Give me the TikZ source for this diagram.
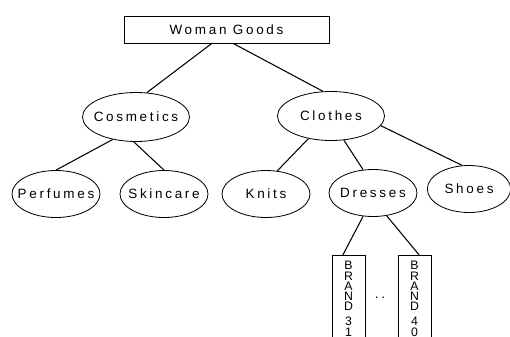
\documentclass[tikz,border=0pt]{standalone}
\usepackage{fontspec}
\setmainfont{Liberation Sans}
\newfontfamily\goodsfont[LetterSpace=20]{Liberation Sans}
\usetikzlibrary{shapes.geometric}

\begin{document}
\begin{tikzpicture}[x=0.03cm, y=-0.03cm,
  font=\goodsfont\fontsize{11.5}{13}\selectfont,
  rootbox/.style={draw, line width=0.7pt, minimum width=6.15cm, minimum height=0.81cm},
  goods/.style={ellipse, draw, line width=0.7pt, inner sep=0pt,
    minimum width=2.64cm, minimum height=1.41cm},
  group/.style={goods, minimum width=3.21cm, minimum height=1.47cm},
  brand/.style={draw, line width=0.7pt, anchor=north, minimum width=0.99cm,
    inner ysep=5pt, align=center, font=\normalfont\fontsize{10.5}{8.8}\selectfont},
  link/.style={line width=0.9pt}]

  \useasboundingbox (0,0) rectangle (510,336);

  % Top of the tree
  \node[rootbox] (woman) at (226.5,29.5) {Woman Goods};

  % Second level
  \node[group] (cosmetics) at (136,117) {\makebox[0pt]{Cosmetics}};
  \node[group] (clothes) at (331,116) {\makebox[0pt]{Clothes}};

  % Third level
  \node[goods] (perfumes) at (56,194) {\makebox[0pt]{Perfumes}};
  \node[goods] (skincare) at (164,194) {\makebox[0pt]{Skincare}};
  \node[goods] (knits) at (266,194) {\makebox[0pt]{Knits}};
  \node[goods] (dresses) at (373,193) {\makebox[0pt]{Dresses}};
  \node[goods, minimum width=2.5cm] (shoes) at (469,189) {\makebox[0pt]{Shoes}};

  % Brands under dresses (cut off at the bottom)
  \node[brand] (brand31) at (348.5,255) {B\\R\\A\\N\\D\\[4pt]3\\1};
  \node[brand] (brand40) at (414.5,255) {B\\R\\A\\N\\D\\[4pt]4\\0};
  \node (dots) at (380,298) {..};

  % Links
  \draw[link] ([xshift=-0.44cm]woman.south) -- (cosmetics.66);
  \draw[link] ([xshift=0.2cm]woman.south) -- (clothes.108);
  \draw[link] (cosmetics.224) -- (perfumes.north);
  \draw[link] (cosmetics.265) -- (skincare.north);
  \draw[link] (clothes.225) -- (knits.64);
  \draw[link] (clothes.298) -- (dresses.113);
  \draw[link] (clothes.349) -- (shoes.106);
  \draw[link] (dresses.247) -- ([xshift=-0.17cm]brand31.north);
  \draw[link] (dresses.301) -- ([xshift=0.14cm]brand40.north);

\end{tikzpicture}
\end{document}
